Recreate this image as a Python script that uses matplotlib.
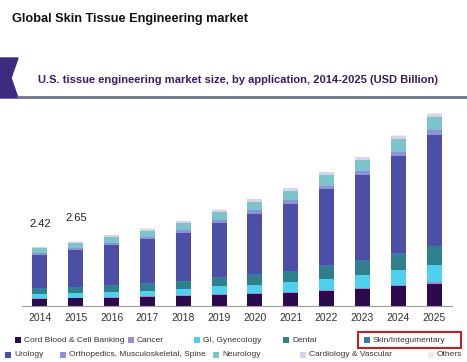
import matplotlib
matplotlib.use("Agg")
import matplotlib.pyplot as plt
from matplotlib.patches import Polygon, Rectangle

years = ["2014", "2015", "2016", "2017", "2018", "2019",
         "2020", "2021", "2022", "2023", "2024", "2025"]

# USD billion, bottom to top
cord_blood = [0.29, 0.31, 0.34, 0.37, 0.41, 0.46, 0.50, 0.55, 0.62, 0.70, 0.82, 0.92]
cancer     = [0.03, 0.03, 0.03, 0.03, 0.04, 0.04, 0.04, 0.04, 0.05, 0.05, 0.05, 0.06]
gi_gyn     = [0.17, 0.19, 0.21, 0.23, 0.26, 0.30, 0.34, 0.38, 0.45, 0.52, 0.60, 0.70]
dental     = [0.20, 0.21, 0.23, 0.25, 0.28, 0.33, 0.38, 0.42, 0.48, 0.54, 0.63, 0.72]
skin       = [0.04, 0.04, 0.04, 0.05, 0.05, 0.06, 0.06, 0.06, 0.07, 0.07, 0.08, 0.08]
urology    = [1.35, 1.51, 1.66, 1.80, 1.97, 2.23, 2.47, 2.75, 3.12, 3.48, 3.96, 4.52]
ortho      = [0.08, 0.08, 0.09, 0.10, 0.11, 0.12, 0.13, 0.14, 0.15, 0.17, 0.19, 0.21]
neurology  = [0.20, 0.22, 0.24, 0.26, 0.29, 0.32, 0.36, 0.39, 0.43, 0.45, 0.52, 0.55]
cardio     = [0.05, 0.05, 0.06, 0.07, 0.07, 0.08, 0.09, 0.10, 0.11, 0.11, 0.12, 0.13]
others     = [0.01, 0.01, 0.01, 0.02, 0.02, 0.02, 0.02, 0.02, 0.02, 0.03, 0.03, 0.03]

series = [
    ("Cord Blood & Cell Banking", cord_blood, "#2b0b4d"),
    ("Cancer", cancer, "#9c8cc8"),
    ("GI, Gynecology", gi_gyn, "#4fd0ee"),
    ("Dental", dental, "#2f7f8c"),
    ("Skin/Integumentary", skin, "#3d78b0"),
    ("Urology", urology, "#4b4fa6"),
    ("Orthopedics, Musculoskeletal, Spine", ortho, "#8d92d8"),
    ("Neurology", neurology, "#7cc4c9"),
    ("Cardiology & Vascular", cardio, "#d8d2ea"),
    ("Others", others, "#eeeeee"),
]
labelled = {0: "2.42", 1: "2.65"}

W, H = 467, 362
plt.rcParams["font.family"] = ["Liberation Sans", "DejaVu Sans"]
fig = plt.figure(figsize=(W / 100, H / 100), dpi=100)


def fx(px):
    return px / W


def fy(py):
    return 1 - py / H


# header
fig.text(fx(12), fy(19), "Global Skin Tissue Engineering market", fontsize=9.2,
         fontweight="bold", color="#111111", va="center", ha="left")
fig.patches.append(Polygon([(fx(0), fy(58)), (fx(18), fy(58)), (fx(11), fy(78)),
                            (fx(18), fy(98)), (fx(0), fy(98))],
                           closed=True, transform=fig.transFigure, color="#3d2b80"))
fig.add_artist(plt.Line2D([fx(18), fx(467)], [fy(97), fy(97)], transform=fig.transFigure,
                          color="#6e7385", lw=2))
fig.text(fx(38), fy(80), "U.S. tissue engineering market size, by application, 2014-2025 (USD Billion)",
         fontsize=8.0, fontweight="bold", color="#3a1f5c", va="center", ha="left")

# chart
ax = fig.add_axes([fx(22), fy(306), fx(430), (306 - 106) / H])
x = list(range(len(years)))
bottom = [0.0] * len(years)
for name, vals, color in series:
    ax.bar(x, vals, width=0.42, bottom=bottom, color=color, label=name, linewidth=0)
    bottom = [b + v for b, v in zip(bottom, vals)]

for i, txt in labelled.items():
    ax.text(i, bottom[i] + 0.75, txt, ha="center", va="bottom", fontsize=8, color="#222222")

ax.set_xlim(-0.5, 11.5)
ax.set_ylim(0, 8.2)
ax.set_yticks([])
ax.set_xticks(x)
ax.set_xticklabels(years, fontsize=7.5, color="#333333")
ax.tick_params(axis="x", length=0, pad=5)
for s in ["top", "right", "left"]:
    ax.spines[s].set_visible(False)
ax.spines["bottom"].set_color("#9a9a9a")
ax.patch.set_alpha(0)

# legend, placed by hand like the original
legend_pos = [
    (15, 340), (128, 340), (194, 340), (283, 340), (364, 340),
    (5, 355), (60, 355), (213, 355), (300, 355), (428, 355),
]
for (name, _, color), (lx, ly) in zip(series, legend_pos):
    fig.patches.append(Rectangle((fx(lx), fy(ly + 3)), fx(6), 6 / H,
                                 transform=fig.transFigure, color=color, lw=0))
    fig.text(fx(lx + 9), fy(ly), name, fontsize=6.0, color="#333333", va="center", ha="left")

fig.patches.append(Rectangle((fx(358), fy(348)), fx(103), 16 / H, transform=fig.transFigure,
                             fill=False, edgecolor="#c0202a", lw=1.5))

fig.savefig("out.png", dpi=100)
